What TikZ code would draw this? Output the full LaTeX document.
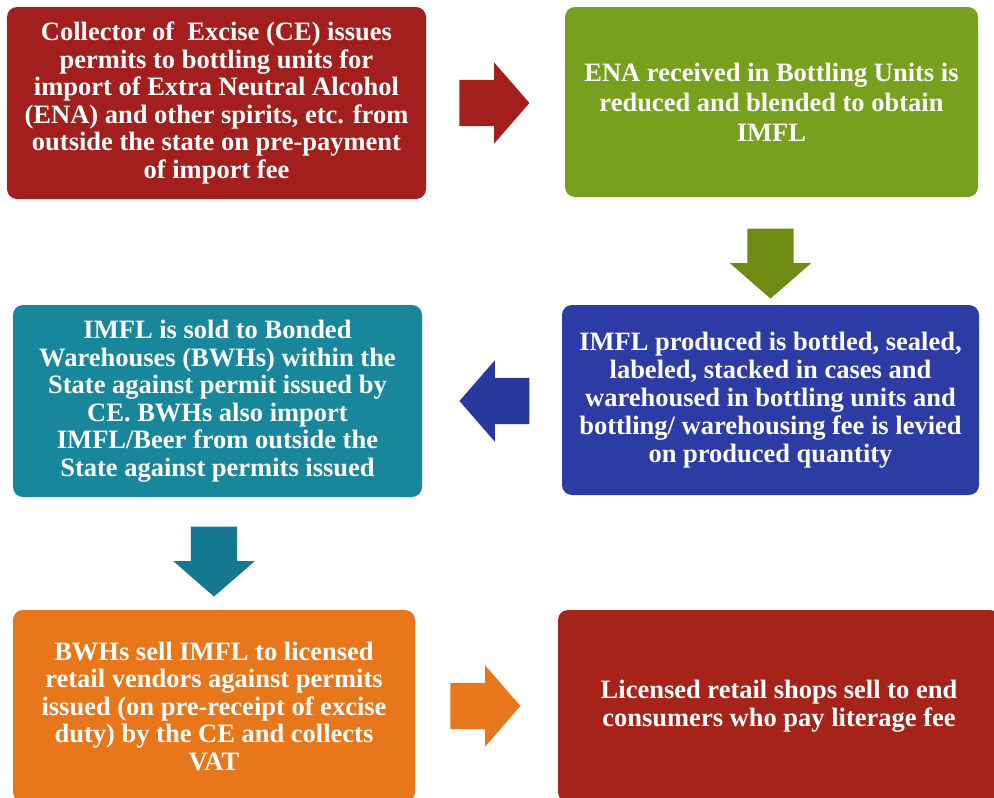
\documentclass[tikz,border=0pt]{standalone}
\usepackage{fontspec}
\setmainfont{Liberation Serif}
\usetikzlibrary{calc,shapes.arrows}
\definecolor{cered}{HTML}{A31F1E}
\definecolor{enagreen}{HTML}{76A01E}
\definecolor{arrgreen}{HTML}{6E8C14}
\definecolor{bottleblue}{HTML}{2D3CA5}
\definecolor{arrblue}{HTML}{283A9E}
\definecolor{bwhteal}{HTML}{19879B}
\definecolor{arrteal}{HTML}{157891}
\definecolor{vendorange}{HTML}{E8761A}
\definecolor{shopred}{HTML}{A52319}
\begin{document}
\begin{tikzpicture}[x=1pt, y=-1pt, font=\fontsize{26.5}{27.5}\selectfont\bfseries,
		box/.style={rounded corners=10pt, text=white, align=center, inner sep=0pt},
		harrow/.style={single arrow, single arrow head extend=17.5pt, single arrow tip angle=98, minimum height=70pt, inner xsep=2pt, inner ysep=23pt},
		varrow/.style={harrow, inner xsep=23pt, inner ysep=2pt, shape border rotate=270}]
		\clip (0,0) rectangle (994,798);
		
		% boxes
		\node[box, fill=cered, minimum width=419pt, minimum height=192pt] (ce) at (216.5,103) {Collector of~ Excise (CE) issues\\permits to bottling units for\\import of Extra Neutral Alcohol\\(ENA) and other spirits, etc. from\\outside the state on pre-payment\\of import fee};
		\node[box, fill=enagreen, minimum width=413pt, minimum height=190pt, font=\fontsize{26.5}{30}\selectfont\bfseries] (ena) at (771.5,102) {ENA received in Bottling Units is\\reduced and blended to obtain\\IMFL};
		\node[box, fill=bottleblue, minimum width=417pt, minimum height=190pt, font=\fontsize{26.5}{28}\selectfont\bfseries] (bottle) at (770.5,400) {IMFL produced is bottled, sealed,\\labeled, stacked in cases and\\warehoused in bottling units and\\bottling/ warehousing fee is levied\\on produced quantity};
		\node[box, fill=bwhteal, minimum width=409pt, minimum height=192pt] (bwh) at (217.5,401) {IMFL is sold to Bonded\\Warehouses (BWHs) within the\\State against permit issued by\\CE. BWHs also import\\IMFL/Beer from outside the\\State against permits issued};
		\node[box, fill=vendorange, minimum width=402pt, minimum height=192pt] (vend) at (214,706) {BWHs sell IMFL to licensed\\retail vendors against permits\\issued (on pre-receipt of excise\\duty) by the CE and collects\\VAT};
		\node[box, fill=shopred, minimum width=442pt, minimum height=192pt] (shop) at (779,706) {Licensed retail shops sell to end\\consumers who pay literage fee};
		
		% block arrows
		\node[harrow, fill=cered, anchor=tail] (a1) at ($(ce.east)+(33,0)$) {};
		\node[varrow, fill=arrgreen, anchor=tip] (a2) at ($(bottle.north)+(0,-6)$) {};
		\node[harrow, fill=arrblue, shape border rotate=180, anchor=tip] (a3) at ($(bwh.east)+(37,0)$) {};
		\node[varrow, fill=arrteal, anchor=tip] (a4) at ($(vend.north)+(0,-13)$) {};
		\node[harrow, fill=vendorange, anchor=tail] (a5) at ($(vend.east)+(35,0)$) {};
\end{tikzpicture}
\end{document}
